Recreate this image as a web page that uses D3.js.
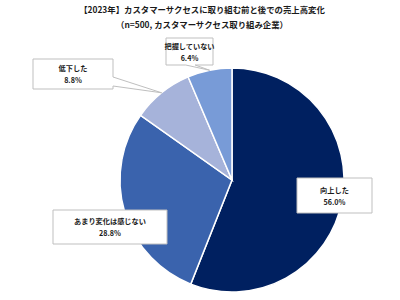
<!DOCTYPE html>
<html>
<head>
<meta charset="utf-8">
<script src="https://cdn.jsdelivr.net/npm/d3@7"></script>
<style>
  body { margin: 0; background: #fff; }
  svg text { font-family: "Noto Sans CJK JP", sans-serif; font-weight: bold; fill: #1a1a1a; }
</style>
</head>
<body>
<div id="chart"></div>
<script>
/* DATA */
const categories = ["向上した", "あまり変化は感じない", "低下した", "把握していない"];
const shares = [56.0, 28.8, 8.8, 6.4];
const colors = ["#002060", "#3a63ad", "#a6b3da", "#789bd7"];
const titleLines = ["【2023年】カスタマーサクセスに取り組む前と後での売上高変化",
  "（n=500, カスタマーサクセス取り組み企業）"];

const width = 400, height = 300;
const cx = 232, cy = 180, radius = 112;

// label boxes (x, y, w, h) and pointer side
const boxes = [
  { x: 297, y: 178, w: 75, h: 35, ptr: null },
  { x: 53, y: 210, w: 114, h: 34, ptr: null },
  { x: 33, y: 59, w: 80, h: 30, ptr: "right" },
  { x: 166, y: 38, w: 47, h: 27, ptr: "bottom" }
];

const svg = d3.select("#chart").append("svg")
  .attr("width", width)
  .attr("height", height);

svg.selectAll("text.title")
  .data(titleLines)
  .join("text")
  .attr("class", "title")
  .attr("x", 202)
  .attr("y", (d, i) => 13 + i * 15)
  .attr("text-anchor", "middle")
  .attr("font-size", 8.4)
  .text(d => d);

const pie = d3.pie().sort(null).value(d => d);
const arcs = pie(shares);
const arc = d3.arc().innerRadius(0).outerRadius(radius);

const g = svg.append("g").attr("transform", `translate(${cx},${cy})`);

g.selectAll("path")
  .data(arcs)
  .join("path")
  .attr("d", arc)
  .attr("fill", (d, i) => colors[i])
  .attr("stroke", "#fff")
  .attr("stroke-width", 1.5);

// callouts
const labels = svg.append("g");
arcs.forEach((a, i) => {
  const b = boxes[i];
  const mid = (a.startAngle + a.endAngle) / 2;
  const tx = cx + radius * Math.sin(mid), ty = cy - radius * Math.cos(mid);
  let p;
  if (b.ptr === "right") {
    const x1 = b.x + b.w;
    p = `M${b.x},${b.y}H${x1}V${b.y + b.h * 0.6}L${tx},${ty}L${x1},${b.y + b.h * 0.9}V${b.y + b.h}H${b.x}Z`;
  } else if (b.ptr === "bottom") {
    const y1 = b.y + b.h;
    p = `M${b.x},${b.y}H${b.x + b.w}V${y1}H${b.x + b.w * 0.62}L${tx},${ty}L${b.x + b.w * 0.42},${y1}H${b.x}Z`;
  } else {
    p = `M${b.x},${b.y}h${b.w}v${b.h}h${-b.w}Z`;
  }
  labels.append("path")
    .attr("d", p)
    .attr("fill", "#fff")
    .attr("stroke", "#bfbfbf")
    .attr("stroke-width", 1);
  const tcx = b.x + b.w / 2;
  const tcy = b.y + b.h / 2;
  labels.append("text")
    .attr("x", tcx).attr("y", tcy - 3)
    .attr("text-anchor", "middle")
    .attr("font-size", 7.2)
    .text(categories[i]);
  labels.append("text")
    .attr("x", tcx).attr("y", tcy + 9)
    .attr("text-anchor", "middle")
    .attr("font-size", 7.2)
    .text(d3.format(".1f")(shares[i]) + "%");
});
</script>
</body>
</html>
